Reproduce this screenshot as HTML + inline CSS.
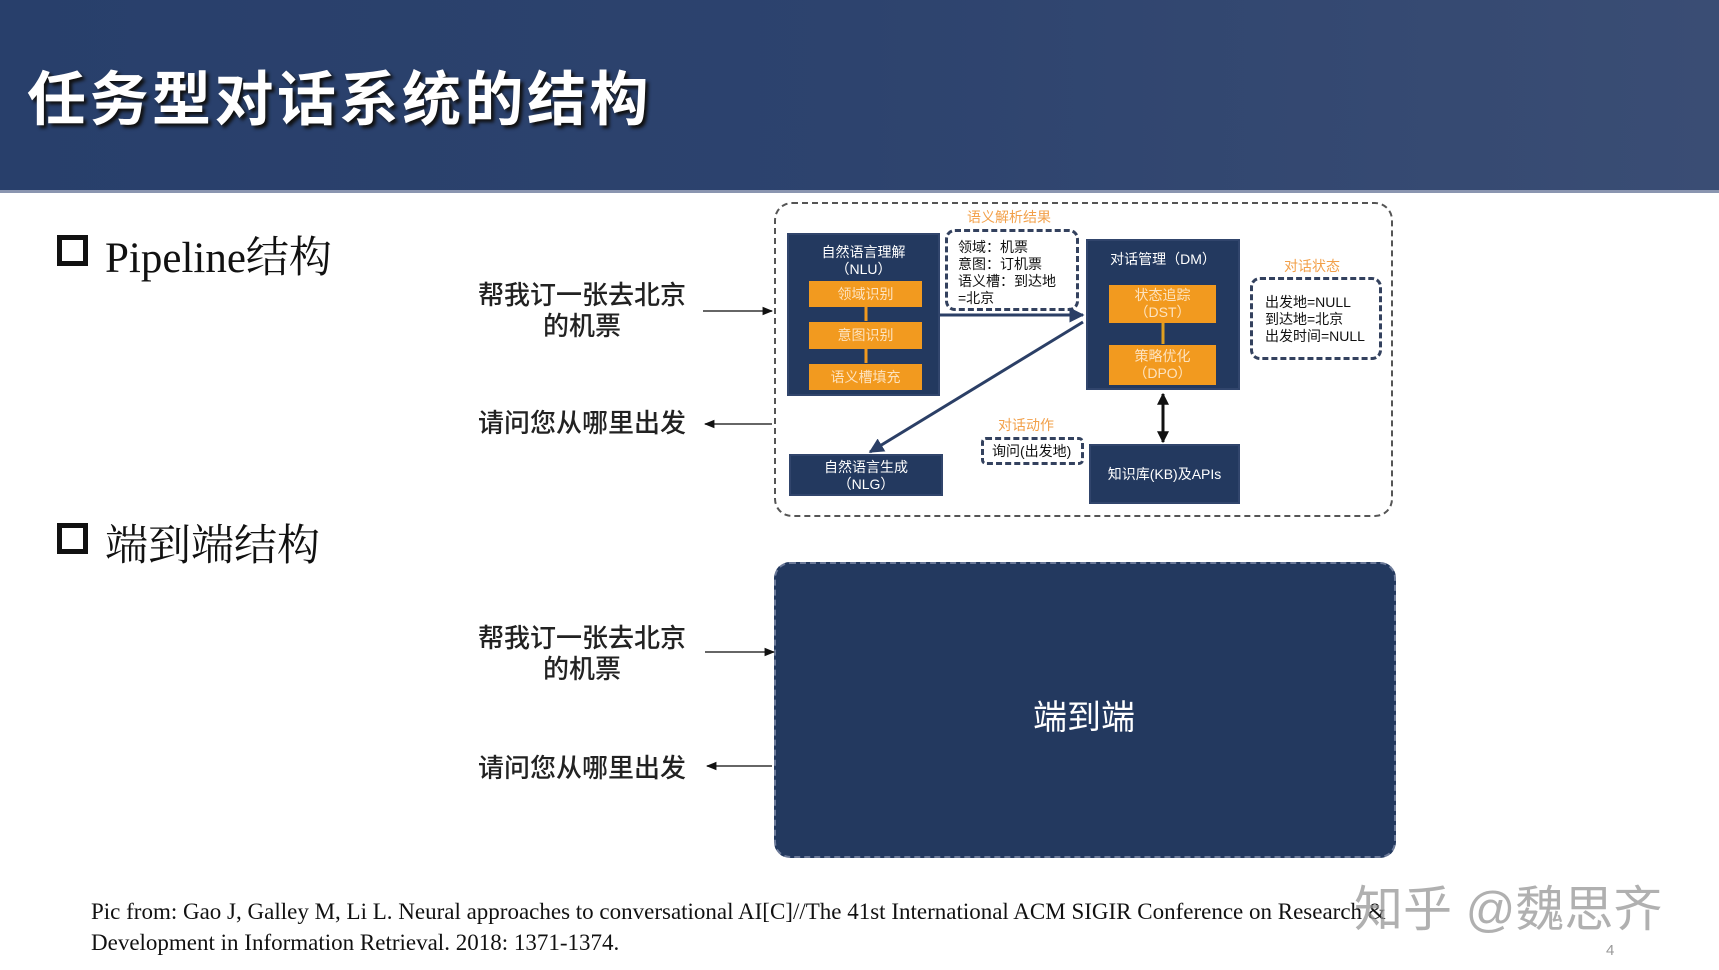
<!DOCTYPE html>
<html><head><meta charset="utf-8"><style>
body{margin:0;width:1719px;height:970px;background:#fff;position:relative;overflow:hidden;font-family:"Liberation Sans","Noto Sans CJK SC",sans-serif}
.hdr{position:absolute;left:0;top:0;width:1719px;height:190px;background:linear-gradient(90deg,#283f6b 0%,#2d436e 50%,#3a4d74 100%);border-bottom:3px solid #8a95b0}
.title{position:absolute;left:27px;top:64px;font-size:59px;font-weight:bold;color:#fff;letter-spacing:3.5px;text-shadow:3px 3px 3px #111;line-height:72px}
.a{position:absolute;white-space:nowrap}
.box{position:absolute;background:#23395f;border:2px solid #31456c;box-sizing:border-box;color:#fff;text-align:center}
.or{position:absolute;background:#f29a1f;color:#fde3bf;font-size:14px;text-align:center;box-sizing:border-box}
.dash{position:absolute;border:3px dashed #33415e;border-radius:10px;box-sizing:border-box;background:#fff}
.lab{position:absolute;color:#f2a04a;font-size:14px;white-space:nowrap;transform:translateX(-50%)}
.cn{font-size:26px;color:#222;text-align:center;line-height:31px;font-weight:500}
.chk{position:absolute;width:31px;height:31px;border:5px solid #111;box-sizing:border-box}
</style></head><body>
<div class="hdr"><div class="title">任务型对话系统的结构</div></div>

<div class="chk" style="left:57px;top:235px"></div>
<div class="a" style="left:105px;top:224px;font-size:43px;color:#111;font-family:'Liberation Serif','Noto Serif CJK SC',serif">Pipeline结构</div>
<div class="chk" style="left:57px;top:523px"></div>
<div class="a" style="left:105px;top:512px;font-size:43px;color:#111;font-family:'Liberation Serif','Noto Serif CJK SC',serif">端到端结构</div>

<div class="a cn" style="left:467px;top:280px;width:230px">帮我订一张去北京<br>的机票</div>
<div class="a cn" style="left:467px;top:408px;width:230px">请问您从哪里出发</div>
<div class="a cn" style="left:467px;top:623px;width:230px">帮我订一张去北京<br>的机票</div>
<div class="a cn" style="left:467px;top:753px;width:230px">请问您从哪里出发</div>

<div class="dash" style="left:774px;top:202px;width:619px;height:315px;border-width:2px;border-radius:18px;border-color:#555"></div>
<div style="position:absolute;left:774px;top:562px;width:622px;height:296px;background:#23395f;border-radius:16px;border:2px dashed #6c7a99;box-sizing:border-box"></div>
<div class="a" style="left:1033px;top:690px;font-size:34px;color:#fff">端到端</div>

<svg width="1719" height="970" style="position:absolute;left:0;top:0">
<defs><marker id="ar" viewBox="0 0 10 10" refX="9" refY="5" markerWidth="7" markerHeight="7" orient="auto-start-reverse"><path d="M0,1L10,5L0,9z" fill="#111"/></marker>
<marker id="ab" viewBox="0 0 10 10" refX="9" refY="5" markerWidth="5" markerHeight="5" orient="auto-start-reverse"><path d="M0,0L10,5L0,10z" fill="#2b3f66"/></marker>
<marker id="ak" viewBox="0 0 10 10" refX="9" refY="5" markerWidth="4" markerHeight="4" orient="auto-start-reverse"><path d="M0,0L10,5L0,10z" fill="#111"/></marker></defs>
<line x1="703" y1="311" x2="772" y2="311" stroke="#333" stroke-width="1.5" marker-end="url(#ar)"/>
<line x1="772" y1="424" x2="705" y2="424" stroke="#333" stroke-width="1.5" marker-end="url(#ar)"/>
<line x1="705" y1="652" x2="774" y2="652" stroke="#333" stroke-width="1.5" marker-end="url(#ar)"/>
<line x1="772" y1="766" x2="707" y2="766" stroke="#333" stroke-width="1.5" marker-end="url(#ar)"/>
</svg>

<div class="box" style="left:787px;top:233px;width:153px;height:163px;font-size:14px;line-height:17px;padding-top:9px">自然语言理解<br>（NLU）</div>
<div class="or" style="left:809px;top:281px;width:113px;height:26px;line-height:26px">领域识别</div>
<div class="or" style="left:809px;top:322px;width:113px;height:27px;line-height:27px">意图识别</div>
<div class="or" style="left:809px;top:364px;width:113px;height:26px;line-height:26px">语义槽填充</div>

<div class="dash" style="left:945px;top:229px;width:134px;height:82px;padding:7px 10px;font-size:14px;line-height:17px;color:#111">领域：机票<br>意图：订机票<br>语义槽：到达地<br>=北京</div>
<div class="lab" style="left:1009px;top:207px">语义解析结果</div>

<div class="box" style="left:1086px;top:239px;width:154px;height:151px;font-size:14px;padding-top:8px">对话管理（DM）</div>
<div class="or" style="left:1109px;top:285px;width:107px;height:38px;line-height:17px;padding-top:2px">状态追踪<br>（DST）</div>
<div class="or" style="left:1109px;top:345px;width:107px;height:40px;line-height:17px;padding-top:3px">策略优化<br>（DPO）</div>

<div class="dash" style="left:1250px;top:277px;width:132px;height:83px;padding:14px 12px;font-size:14px;line-height:17px;color:#111">出发地=NULL<br>到达地=北京<br>出发时间=NULL</div>
<div class="lab" style="left:1312px;top:256px">对话状态</div>

<div class="box" style="left:789px;top:454px;width:154px;height:42px;font-size:14px;line-height:17px;padding-top:3px">自然语言生成<br>（NLG）</div>
<div class="box" style="left:1089px;top:444px;width:151px;height:60px;font-size:14px;line-height:56px">知识库(KB)及APIs</div>
<div class="dash" style="left:981px;top:437px;width:103px;height:28px;font-size:14px;line-height:22px;padding-left:8px;color:#111;border-radius:5px">询问(出发地)</div>
<div class="lab" style="left:1026px;top:415px">对话动作</div>

<svg width="1719" height="970" style="position:absolute;left:0;top:0">
<line x1="940" y1="315" x2="1083" y2="315" stroke="#2b3f66" stroke-width="3" marker-end="url(#ab)"/>
<line x1="1083" y1="322" x2="870" y2="452" stroke="#2b3f66" stroke-width="3" marker-end="url(#ab)"/>
<line x1="1163" y1="394" x2="1163" y2="442" stroke="#111" stroke-width="3" marker-start="url(#ak)" marker-end="url(#ak)"/>
<line x1="866" y1="307" x2="866" y2="321" stroke="#f29a1f" stroke-width="3"/>
<line x1="866" y1="349" x2="866" y2="363" stroke="#f29a1f" stroke-width="3"/>
<line x1="1163" y1="323" x2="1163" y2="344" stroke="#e0a020" stroke-width="3"/>
</svg>

<div class="a" style="left:91px;top:896px;font-size:23px;color:#111;font-family:'Liberation Serif',serif;line-height:31px">Pic from: Gao J, Galley M, Li L. Neural approaches to conversational AI[C]//The 41st International ACM SIGIR Conference on Research &amp;<br>Development in Information Retrieval. 2018: 1371-1374.</div>
<div class="a" style="left:1354px;top:870px;font-size:49px;color:rgba(150,150,150,0.75)">知乎 @魏思齐</div>
<div class="a" style="left:1606px;top:942px;font-size:15px;color:#999">4</div>
</body></html>
